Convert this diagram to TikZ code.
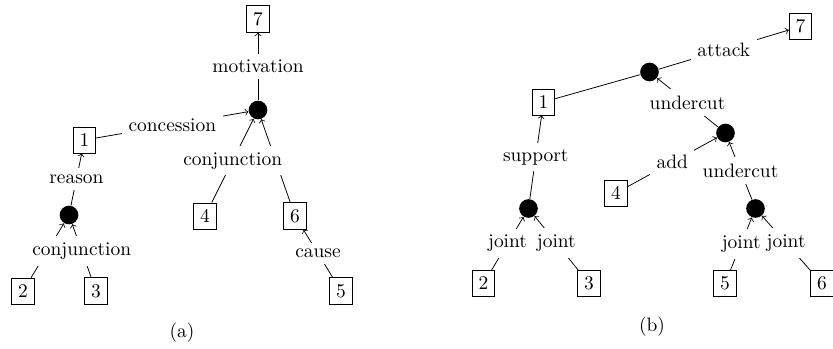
\documentclass[tikz,border=0pt]{standalone}
\usepackage{amsmath,amssymb}
\usepackage{tikz}
\usetikzlibrary{positioning}

\begin{document}
\begin{tikzpicture}[x=0.515pt, y=-0.515pt, >=to,
  box/.style={draw},
  rel/.style={circle, fill, inner sep=0pt, minimum size=9.6pt},
  lab/.style={fill=white}]
\useasboundingbox (0,0) rectangle (833,348);
% (a)
\node (a7) [box] at (258,19) {7};
\node (ad1) [rel] at (258,110) {};
\node (a1) [box] at (84.5,140) {1};
\node (ad2) [rel] at (69,215) {};
\node (a2) [box] at (23,291) {2};
\node (a3) [box] at (96,291) {3};
\node (a4) [box] at (205,216) {4};
\node (a6) [box] at (295,216) {6};
\node (a5) [box] at (341,291) {5};
\draw[->] (ad1) -- node[lab] {motivation} (a7);
\draw[->] (a1) -- node[lab] {concession} (ad1);
\draw[->] (a6) -- (ad1);
\draw[->] (a4) -- node[lab] {conjunction} (ad1);
\draw[->] (a5) -- node[lab] {cause} (a6);
\draw[->] (ad2) -- node[lab] {reason} (a1);
\draw[->] (a2) -- (ad2);
\draw[->] (a3) -- node[lab] {conjunction} (ad2);
\node (capa) at (182,333) {(a)};
% (b)
\node (b7) [box] at (800.5,26.5) {7};
\node (bd1) [rel] at (649.5,72) {};
\node (b1) [box] at (543.5,102) {1};
\node (bd2) [rel] at (725.5,133) {};
\node (b4) [box] at (616,193) {4};
\node (bd3) [rel] at (755.5,208.5) {};
\node (b5) [box] at (725,283.5) {5};
\node (b6) [box] at (822,283.5) {6};
\node (bd4) [rel] at (528.5,208.5) {};
\node (b2) [box] at (483.5,283.5) {2};
\node (b3) [box] at (589,283.5) {3};
\draw (b1) -- (bd1);
\draw[->] (bd1) -- node[lab] {attack} (b7);
\draw[->] (bd2) -- node[lab] {undercut} (bd1);
\draw[->] (b4) -- node[lab] {add} (bd2);
\draw[->] (bd3) -- node[lab] {undercut} (bd2);
\draw[->] (b5) -- node[lab] {joint} (bd3);
\draw[->] (b6) -- node[lab] {joint} (bd3);
\draw[->] (bd4) -- node[lab] {support} (b1);
\draw[->] (b2) -- node[lab] {joint} (bd4);
\draw[->] (b3) -- node[lab] {joint} (bd4);
\node (capb) at (652,327) {(b)};
\end{tikzpicture}
\end{document}
